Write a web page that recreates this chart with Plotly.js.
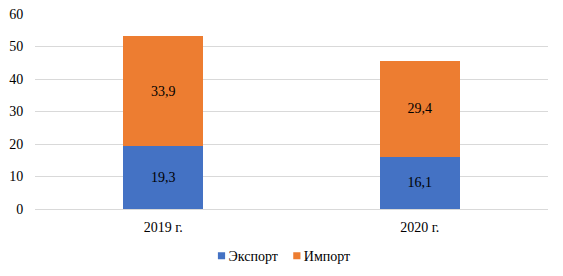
<!DOCTYPE html>
<html>
<head>
<meta charset="utf-8">
<script src="https://cdn.plot.ly/plotly-3.0.1.min.js"></script>
<style>html,body{margin:0;padding:0;background:#fff;}#chart{width:563px;height:276px;}</style>
</head>
<body>
<div id="chart"></div>
<script>
const categories = ['2019 г.', '2020 г.'];
const exportValues = [19.3, 16.1];
const importValues = [33.9, 29.4];
const seriesNames = ['Экспорт', 'Импорт'];
const yTicks = [0, 10, 20, 30, 40, 50, 60];

const fmt = v => v.toFixed(1).replace('.', ',');
const font = {family: 'Liberation Serif, Times New Roman, serif', size: 14, color: '#000'};

const traces = [
  {type: 'bar', name: seriesNames[0], x: categories, y: exportValues,
   text: exportValues.map(fmt), textposition: 'inside', insidetextanchor: 'middle',
   textfont: font, marker: {color: '#4472C4'}, hoverinfo: 'none'},
  {type: 'bar', name: seriesNames[1], x: categories, y: importValues,
   text: importValues.map(fmt), textposition: 'inside', insidetextanchor: 'middle',
   textfont: font, marker: {color: '#ED7D31'}, hoverinfo: 'none'}
];

const layout = {
  width: 563, height: 276,
  margin: {l: 35, r: 15, t: 14, b: 67},
  barmode: 'stack', bargap: 0.69,
  font: font,
  paper_bgcolor: '#fff', plot_bgcolor: '#fff',
  showlegend: true,
  legend: {orientation: 'h', x: 0.5, xanchor: 'center', xref: 'container', y: 0.072, yref: 'container', yanchor: 'middle', font: font, traceorder: 'normal'},
  xaxis: {showgrid: false, showline: true, linecolor: '#d9d9d9', linewidth: 1, ticks: 'outside', ticklen: 5, tickcolor: 'rgba(0,0,0,0)', tickfont: font, automargin: false},
  yaxis: {range: [0, 60], tickvals: yTicks, showgrid: true, gridcolor: '#d9d9d9', gridwidth: 1, zeroline: true, zerolinecolor: '#d9d9d9', zerolinewidth: 1, showline: false, ticks: 'outside', ticklen: 8, tickcolor: 'rgba(0,0,0,0)', tickfont: font, automargin: false}
};

Plotly.newPlot('chart', traces, layout, {displayModeBar: false, staticPlot: true}).then(gd => {
  const groups = gd.querySelectorAll('.legend .traces');
  groups.forEach((g, i) => {
    const p = g.querySelector('.legendpoints path');
    if (p) p.setAttribute('transform', 'translate(33,0) scale(0.6)');
    const tr = g.getAttribute('transform') || '';
    const m = tr.match(/translate\(\s*([-\d.]+)[ ,]+([-\d.]+)\s*\)/);
    if (m && i > 0) {
      g.setAttribute('transform', 'translate(' + (parseFloat(m[1]) - 19 * i) + ',' + m[2] + ')');
    }
  });
});
</script>
</body>
</html>
